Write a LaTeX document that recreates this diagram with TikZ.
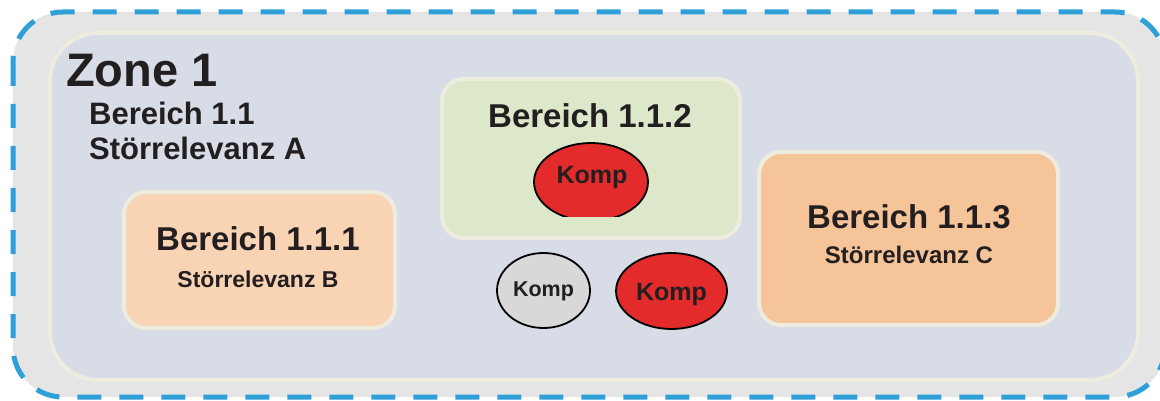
\documentclass[tikz,border=0pt]{standalone}
\usepackage{fontspec}
\setmainfont{Liberation Sans}
\usetikzlibrary{shapes.geometric}
\definecolor{outergray}{HTML}{E5E5E5}
\definecolor{innerblue}{HTML}{D7DCE6}
\definecolor{cream}{HTML}{EEECDF}
\definecolor{peach}{HTML}{F8D3B4}
\definecolor{orangebox}{HTML}{F6C499}
\definecolor{greenbox}{HTML}{DDE8CB}
\definecolor{kompred}{HTML}{E32B2B}
\definecolor{kompgray}{HTML}{D8D8D8}
\definecolor{txt}{HTML}{231F20}
\definecolor{dashblue}{HTML}{2E9FD8}
\newcommand{\fsz}[1]{\fontsize{#1}{#1}\selectfont\bfseries}
\tikzset{
  areabox/.style={draw=cream, line width=4pt, rounded corners=22pt, inner sep=0pt},
  komp/.style={ellipse, draw=black, line width=1.8pt, inner sep=0pt},
  lbl/.style={anchor=base, text=txt, inner sep=0pt},
  lblw/.style={anchor=base west, text=txt, inner sep=0pt}
}
\begin{document}
\begin{tikzpicture}[x=1pt,y=-1pt]
\useasboundingbox (0,0) rectangle (1160,401);
\fill[white] (0,0) rectangle (1160,401);
% outer zone
\path[fill=outergray, draw=dashblue, line width=5pt, dash pattern=on 24pt off 18pt, rounded corners=50pt]
  (13,12) rectangle (1165,397);
% inner area
\path[fill=innerblue, draw=cream, line width=4pt, rounded corners=48pt]
  (50,33) rectangle (1138,380);
% labels top-left
\node[lblw] (zone) at (66,87) {\fsz{47}Zone 1};
\node[lblw] (b11) at (89,125) {\fsz{31}Bereich 1.1};
\node[lblw] (s11) at (89,160) {\fsz{31}Störrelevanz A};
% Bereich 1.1.1
\node[areabox, fill=peach, minimum width=271pt, minimum height=136pt] (box1) at (259.5,260) {};
\node[lbl] (b111) at (258,250) {\fsz{33}Bereich 1.1.1};
\node[lbl] (s111) at (258,287) {\fsz{23}Störrelevanz B};
% Bereich 1.1.2
\node[areabox, fill=greenbox, minimum width=298pt, minimum height=159pt] (box2) at (591,158.5) {};
\node[lbl] (b112) at (590,128) {\fsz{33}Bereich 1.1.2};
\begin{scope}
\clip (500,120) rectangle (700,216.5);
\node[komp, fill=kompred, minimum width=114pt, minimum height=78pt] (k1) at (591,182) {};
\end{scope}
\node[lbl] (k1t) at (592,183) {\fsz{25}Komp};
% Bereich 1.1.3
\node[areabox, fill=orangebox, minimum width=299pt, minimum height=173pt] (box3) at (908.5,238.5) {};
\node[lbl] (b113) at (909,228) {\fsz{33}Bereich 1.1.3};
\node[lbl] (s113) at (909,263) {\fsz{24}Störrelevanz C};
% loose components
\node[komp, fill=kompgray, minimum width=93pt, minimum height=75pt] (k2) at (543.5,290.5) {};
\node[lbl] (k2t) at (543.5,296) {\fsz{21.5}Komp};
\node[komp, fill=kompred, minimum width=111pt, minimum height=76pt] (k3) at (671.5,291) {};
\node[lbl] (k3t) at (671.5,300) {\fsz{25}Komp};
\end{tikzpicture}
\end{document}
